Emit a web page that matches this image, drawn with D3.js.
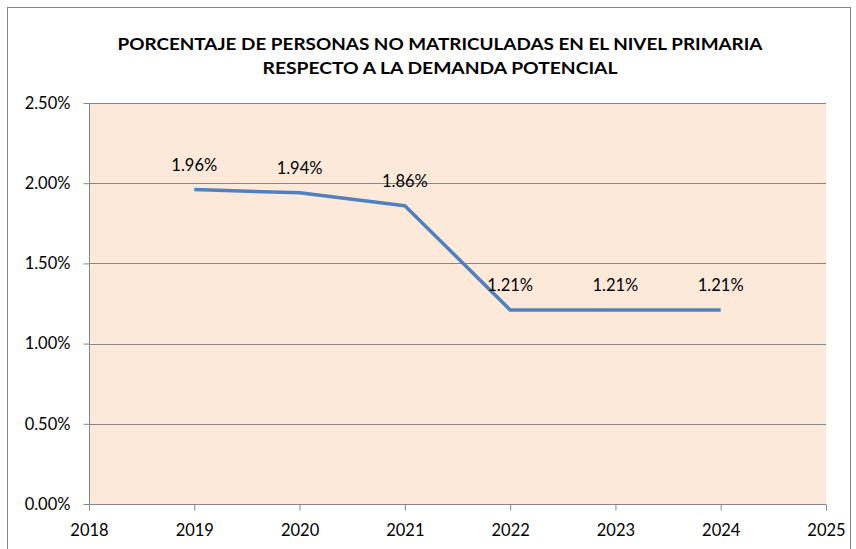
<!DOCTYPE html>
<html>
<head>
	<meta charset="utf-8">
	<script src="https://cdnjs.cloudflare.com/ajax/libs/d3/7.8.5/d3.min.js"></script>
	<style>
		body { margin: 0; background: #fff; }
		text { font-family: Lato, "Open Sans", sans-serif; fill: #000; }
	</style>
</head>
<body>
	<svg width="856" height="549"></svg>
	<script>
		// data
		let years = [2019, 2020, 2021, 2022, 2023, 2024];
		let values = [0.0196, 0.0194, 0.0186, 0.0121, 0.0121, 0.0121];
		let labels = ["1.96%", "1.94%", "1.86%", "1.21%", "1.21%", "1.21%"];
		let xTicks = [2018, 2019, 2020, 2021, 2022, 2023, 2024, 2025];
		let yTicks = [0, 0.005, 0.01, 0.015, 0.02, 0.025];
		let titleLines = ["PORCENTAJE DE PERSONAS NO MATRICULADAS EN EL NIVEL PRIMARIA",
			"RESPECTO A LA DEMANDA POTENCIAL"];

		let svg = d3.select("svg"),
			margin = {top: 103, right: 30, bottom: 45, left: 89},
			width = 826 - margin.left,
			height = 504 - margin.top;

		// chart frame
		svg.append("rect")
			.attr("x", 7.5).attr("y", 7.5)
			.attr("width", 843).attr("height", 560)
			.attr("fill", "#fff")
			.attr("stroke", "#868686");

		let g = svg.append("g").attr("transform", "translate(" + margin.left + "," + margin.top + ")");

		let x = d3.scaleLinear().domain([2018, 2025]).range([0, width]),
			y = d3.scaleLinear().domain([0, 0.025]).range([height, 0]);

		// plot area
		g.append("rect")
			.attr("width", width).attr("height", height)
			.attr("fill", "#FDE9D9");

		// gridlines
		g.append("g")
			.selectAll("line")
			.data(yTicks.slice(1))
			.enter()
			.append("line")
			.attr("x1", 0).attr("x2", width)
			.attr("y1", d => Math.round(y(d)) + 0.5).attr("y2", d => Math.round(y(d)) + 0.5)
			.attr("stroke", "#868686");

		// y axis
		let yAxis = g.append("g")
			.attr("transform", "translate(0.5,0)")
			.call(d3.axisLeft(y).tickValues(yTicks).tickSize(6).tickPadding(13)
				.tickFormat(d => (d * 100).toFixed(2) + "%"));
		yAxis.select(".domain").attr("stroke", "#868686").attr("d", "M0," + height + "V0");
		yAxis.selectAll(".tick line").attr("stroke", "#868686");
		yAxis.selectAll(".tick text").style("font-size", "16.5px");

		// x axis
		let xAxis = g.append("g")
			.attr("transform", "translate(0," + (height + 0.5) + ")")
			.call(d3.axisBottom(x).tickValues(xTicks).tickSize(6).tickPadding(14)
				.tickFormat(d3.format("d")));
		xAxis.select(".domain").attr("stroke", "#868686").attr("d", "M0,0H" + width);
		xAxis.selectAll(".tick line").attr("stroke", "#868686");
		xAxis.selectAll(".tick text").style("font-size", "16.5px");

		// line
		let line = d3.line()
			.x((d, i) => x(years[i]))
			.y(d => y(d));
		g.append("path")
			.datum(values)
			.attr("fill", "none")
			.attr("stroke", "#4F81BD")
			.attr("stroke-width", 3.5)
			.attr("stroke-linejoin", "round")
			.attr("d", line);

		// data labels
		g.append("g")
			.selectAll("text")
			.data(values)
			.enter()
			.append("text")
			.attr("x", (d, i) => x(years[i]))
			.attr("y", d => y(d) - 19)
			.attr("text-anchor", "middle")
			.style("font-size", "16.5px")
			.text((d, i) => labels[i]);

		// title
		svg.append("g")
			.selectAll("text")
			.data(titleLines)
			.enter()
			.append("text")
			.attr("x", 440)
			.attr("y", (d, i) => 50 + i * 24)
			.attr("text-anchor", "middle")
			.attr("textLength", (d, i) => i === 0 ? 645 : 355)
			.attr("lengthAdjust", "spacingAndGlyphs")
			.style("font-size", "17px")
			.style("font-weight", "bold")
			.text(d => d);
	</script>
</body>
</html>
